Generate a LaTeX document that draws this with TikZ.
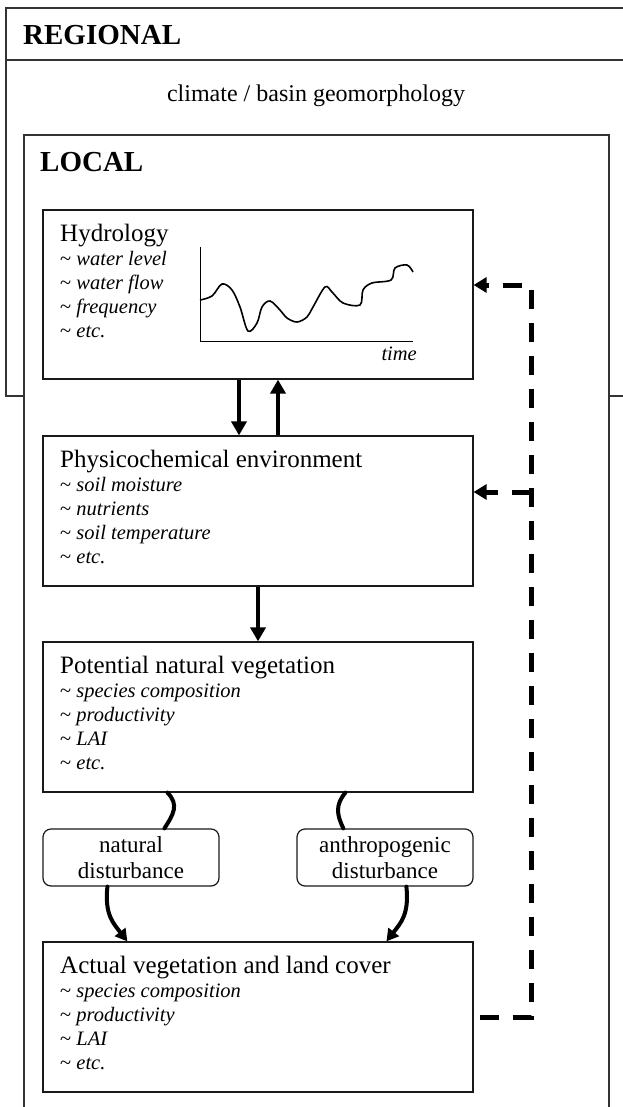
\documentclass[tikz,border=0pt]{standalone}
\usepackage{fontspec}
\setmainfont{Liberation Serif}
\usetikzlibrary{arrows.meta,calc}

\tikzset{
  frame/.style={draw=black!80, line width=1.2pt},
  box/.style={draw=black!90, line width=1.2pt, minimum width=430pt, inner sep=0pt},
  distbox/.style={draw=black!90, line width=1.2pt, rounded corners=8pt, minimum width=176pt,
    minimum height=57pt, inner sep=0pt, align=center, font=\fontsize{23}{26}\selectfont},
  scalelbl/.style={anchor=base west, font=\fontsize{29}{34}\selectfont\bfseries},
  head/.style={anchor=base west, inner sep=0pt, font=\fontsize{25}{30}\selectfont},
  item/.style={anchor=base west, inner sep=0pt, font=\fontsize{20.5}{24}\selectfont\itshape},
  flow/.style={line width=4pt, -{Triangle[length=14pt,width=15pt]}},
  bendflow/.style={line width=4pt, line cap=round},
  feedback/.style={line width=5pt, dash pattern=on 19pt off 14pt, -{Triangle[length=13pt,width=15pt]}}
}
\newcommand{\tl}{\textup{\textasciitilde}}

\begin{document}
\begin{tikzpicture}[x=1pt, y=-1pt]
    \useasboundingbox (0,0) rectangle (623,1107);

    % regional and local frames
    \draw[frame] (623,8) -- (6,8) -- (6,396) -- (24,396);
    \draw[frame] (609,396) -- (623,396);
    \draw[frame] (6,60) -- (623,60);
    \draw[frame] (24,1107) -- (24,135) -- (609,135) -- (609,1107);
    \node[scalelbl, inner sep=0pt] (regional) at (23,45) {REGIONAL};
    \node[anchor=base, inner sep=0pt, font=\fontsize{24}{29}\selectfont] (climate) at (316,102) {climate / basin geomorphology};
    \node[scalelbl, inner sep=0pt] (local) at (40,172) {LOCAL};

    % hydrology
    \node[box, minimum height=169pt] (hydro) at (258,294.5) {};
    \node[head] (hydro-t) at (60,241) {Hydrology};
    \foreach \t [count=\i] in {water level, water flow, frequency, etc.}
        \node[item] (hydro-\i) at (60,241+24*\i) {\tl\ \t};
    \draw[line width=1pt] (200,247) -- (200,341) -- (413,341);
    \draw[line width=1.6pt] plot[smooth, tension=0.55] coordinates {(200,300) (212,296) (222,284) (232,290)
        (240,307) (248,331) (257,323) (262,307) (270,301) (280,310) (287,318) (297,322) (307,317)
        (313,307) (325,287) (332,292) (343,303) (360,305) (363,290) (372,283) (391,280) (395,268)
        (407,265) (413,272)};
    \node[item, anchor=base east] (time) at (417,360) {time};

    % physicochemical environment
    \node[box, minimum height=150pt] (phys) at (258,511) {};
    \node[head] (phys-t) at (60,467) {Physicochemical environment};
    \foreach \t [count=\i] in {soil moisture, nutrients, soil temperature, etc.}
        \node[item] (phys-\i) at (60,467+24*\i) {\tl\ \t};

    % potential vegetation
    \node[box, minimum height=150pt] (potveg) at (258,717) {};
    \node[head] (potveg-t) at (60,673) {Potential natural vegetation};
    \foreach \t [count=\i] in {species composition, productivity, LAI, etc.}
        \node[item] (potveg-\i) at (60,673+24*\i) {\tl\ \t};

    % disturbances
    \node[distbox] (natdist) at (131,857.5) {natural\\disturbance};
    \node[distbox] (anthdist) at (385,857.5) {anthropogenic\\disturbance};

    % actual vegetation
    \node[box, minimum height=150pt] (actveg) at (258,1017) {};
    \node[head] (actveg-t) at (60,973) {Actual vegetation and land cover};
    \foreach \t [count=\i] in {species composition, productivity, LAI, etc.}
        \node[item] (actveg-\i) at (60,973+24*\i) {\tl\ \t};

    % solid links
    \draw[flow] ([xshift=-19pt]hydro.south) -- ([xshift=-19pt]phys.north);
    \draw[flow] ([xshift=20pt]phys.north) -- ([xshift=20pt]hydro.south);
    \draw[flow] (phys.south) -- (potveg.north);
    \draw[bendflow] ([xshift=125pt]potveg.south west) .. controls +(12,12) and +(9,-14) .. ([xshift=122pt]natdist.north west);
    \draw[bendflow] ([xshift=303pt]potveg.south west) .. controls +(-10,12) and +(-7,-14) .. ([xshift=47pt]anthdist.north west);
    \draw[bendflow, -{Triangle[length=12pt,width=13pt]}] ([xshift=65pt]natdist.south west) .. controls +(-3,28) and +(-14,-18) .. ([xshift=85pt]actveg.north west);
    \draw[bendflow, -{Triangle[length=12pt,width=13pt]}] ([xshift=110pt]anthdist.south west) .. controls +(3,28) and +(14,-18) .. ([xshift=344pt]actveg.north west);

    % feedback from land cover
    \coordinate (rail) at (531,0);
    \coordinate (hydro-in) at ([yshift=9.5pt]hydro.east);
    \coordinate (phys-in) at ([yshift=19pt]phys.east);
    \draw[feedback] ([xshift=6pt]actveg.east) -| (rail |- hydro-in) -- (hydro-in);
    \draw[feedback] (rail |- phys-in) -- (phys-in);
\end{tikzpicture}
\end{document}
